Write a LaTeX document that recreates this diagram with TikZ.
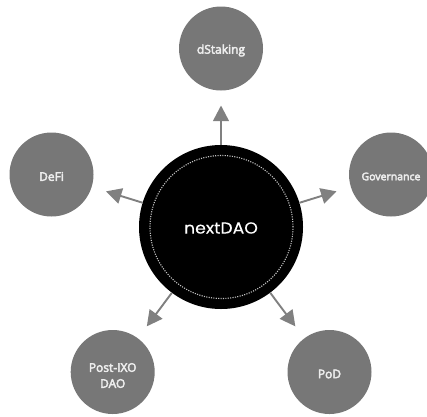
\documentclass[tikz,border=0pt]{standalone}
\usepackage{fontspec}
\setmainfont{Open Sans}
\newfontfamily\satfont[FakeBold=3.5]{Open Sans}
\newfontfamily\hubfont[FakeStretch=1.08,FakeBold=0.1]{Poppins}
\usetikzlibrary{arrows.meta}
\definecolor{satgray}{HTML}{777777}
\definecolor{arrowgray}{HTML}{808080}
\definecolor{labelgray}{HTML}{EDEDED}
\definecolor{ringgray}{HTML}{C4C4C4}
\newcommand{\lowered}[2][2pt]{\raisebox{-#1}[\height][\depth]{#2}}
\tikzset{
  x=1pt,y=-1pt,
  satellite/.style={circle,fill=satgray,draw=none,inner sep=0pt,outer sep=0pt,minimum size=84pt,
    text=labelgray,font=\satfont\fontsize{12}{16}\selectfont,align=center},
  hub/.style={circle,fill=black,draw=none,inner sep=0pt,outer sep=0pt,minimum size=164pt,
    text=white,font=\hubfont\fontsize{16}{18}\selectfont},
  ring/.style={circle,draw=ringgray,line width=1.1pt,dash pattern=on 1.1pt off 1.3pt,inner sep=0pt,minimum size=143pt},
  link/.style={draw=arrowgray,line width=1.9pt,-{Triangle[length=15.5pt,width=15.7pt]},shorten >=15pt}
}
\begin{document}
\begin{tikzpicture}
\useasboundingbox (0,0) rectangle (427,416);
\node[hub] (hub) at (221,227) {\lowered[1pt]{nextDAO}};
\node[ring] (ring) at (221.5,227) {};
\node[satellite] (dstaking) at (221,48.5) {\lowered{dStaking}};
\node[satellite] (defi) at (51.5,174.5) {\lowered{DeFi}};
\node[satellite,font=\satfont\fontsize{10.5}{14}\selectfont] (gov) at (391,174.5) {\lowered{Governance}};
\node[satellite] (postixo) at (112.7,372) {\lowered[3.5pt]{Post-IXO}\\\lowered[3.5pt]{DAO}};
\node[satellite] (pod) at (329.5,372) {\lowered{PoD}};
\foreach \t in {dstaking,defi,gov,postixo,pod}
  \draw[link] (hub) -- (\t);
\end{tikzpicture}
\end{document}
